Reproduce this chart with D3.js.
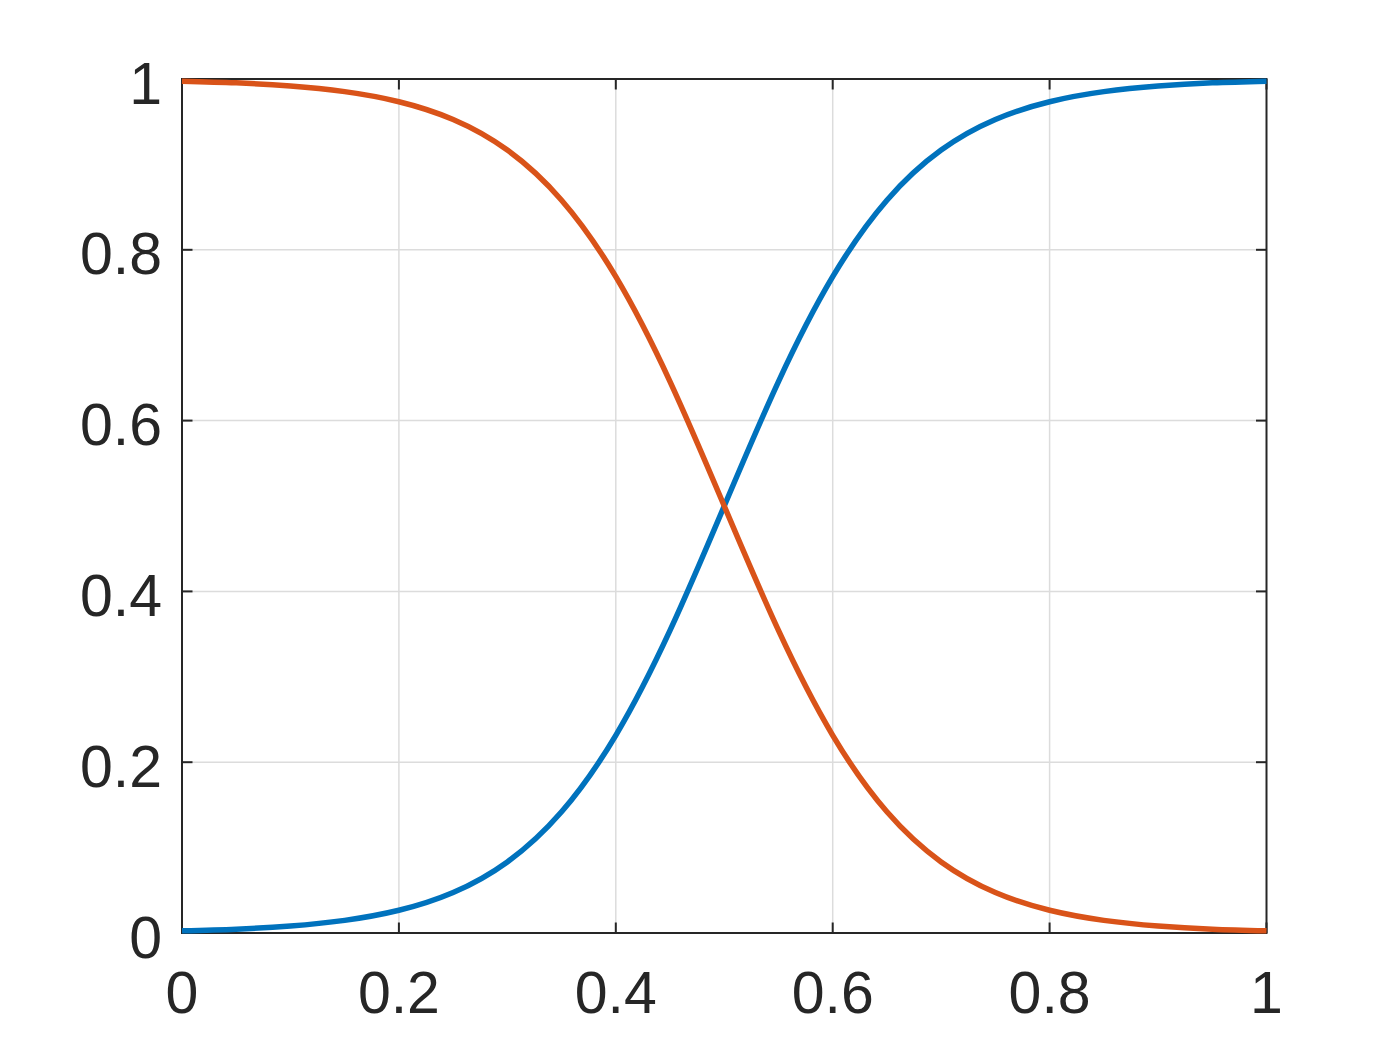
<!DOCTYPE html>
<html>
<head>
<meta charset="utf-8">
<script src="https://cdn.jsdelivr.net/npm/d3@7"></script>
<style>
  body { margin: 0; background: #ffffff; }
</style>
</head>
<body>
<script>
// ********************** DATA **************************************************************
var xValues = [0, 0.05, 0.1, 0.15, 0.2, 0.25, 0.3, 0.35, 0.4, 0.45, 0.5,
               0.55, 0.6, 0.65, 0.7, 0.75, 0.8, 0.85, 0.9, 0.95, 1];
// rising curve (blue)
var blueValues = [0.0025, 0.0045, 0.0082, 0.0148, 0.0266, 0.0474, 0.0832, 0.1419, 0.2315, 0.3543, 0.5,
                  0.6457, 0.7685, 0.8581, 0.9168, 0.9526, 0.9734, 0.9852, 0.9918, 0.9955, 0.9975];
// falling curve (red)
var redValues = [0.9975, 0.9955, 0.9918, 0.9852, 0.9734, 0.9526, 0.9168, 0.8581, 0.7685, 0.6457, 0.5,
                 0.3543, 0.2315, 0.1419, 0.0832, 0.0474, 0.0266, 0.0148, 0.0082, 0.0045, 0.0025];
var xTicks = [0, 0.2, 0.4, 0.6, 0.8, 1];
var yTicks = [0, 0.2, 0.4, 0.6, 0.8, 1];

// ********************** LAYOUT **************************************************************
var width = 1400;
var height = 1050;
// plot box edges (note: "top" is reserved on window, so use plot* names)
var plotLeft = 182, plotRight = 1266.5, plotTop = 79, plotBottom = 933;
var axisColor = "#262626";
var gridColor = "#dcdcdc";
var fontSize = 59;
var tickLen = 10.5;

var svg = d3.select("body")
    .append("svg")
    .attr("width", width)
    .attr("height", height);

var x = d3.scaleLinear().domain([0, 1]).range([plotLeft, plotRight]);
var y = d3.scaleLinear().domain([0, 1]).range([plotBottom, plotTop]);

// ********************** GRID **************************************************************
svg.append("g").selectAll("line")
    .data(xTicks.slice(1, -1))
    .enter().append("line")
    .attr("x1", d => x(d)).attr("x2", d => x(d))
    .attr("y1", plotTop).attr("y2", plotBottom)
    .attr("stroke", gridColor)
    .attr("stroke-width", 1.5);

svg.append("g").selectAll("line")
    .data(yTicks.slice(1, -1))
    .enter().append("line")
    .attr("x1", plotLeft).attr("x2", plotRight)
    .attr("y1", d => y(d)).attr("y2", d => y(d))
    .attr("stroke", gridColor)
    .attr("stroke-width", 1.5);

// ********************** AXES BOX + TICKS **************************************************************
svg.append("rect")
    .attr("x", plotLeft)
    .attr("y", plotTop)
    .attr("width", plotRight - plotLeft)
    .attr("height", plotBottom - plotTop)
    .attr("fill", "none")
    .attr("stroke", axisColor)
    .attr("stroke-width", 2);

var ticks = svg.append("g")
    .attr("stroke", axisColor)
    .attr("stroke-width", 2);

xTicks.forEach(function(t) {
    ticks.append("line")
        .attr("x1", x(t)).attr("x2", x(t))
        .attr("y1", plotBottom).attr("y2", plotBottom - tickLen);
    ticks.append("line")
        .attr("x1", x(t)).attr("x2", x(t))
        .attr("y1", plotTop).attr("y2", plotTop + tickLen);
});

yTicks.forEach(function(t) {
    ticks.append("line")
        .attr("x1", plotLeft).attr("x2", plotLeft + tickLen)
        .attr("y1", y(t)).attr("y2", y(t));
    ticks.append("line")
        .attr("x1", plotRight).attr("x2", plotRight - tickLen)
        .attr("y1", y(t)).attr("y2", y(t));
});

// tick labels
svg.append("g").selectAll("text")
    .data(xTicks)
    .enter().append("text")
    .attr("x", d => x(d))
    .attr("y", plotBottom + 80)
    .attr("text-anchor", "middle")
    .text(d => d)
    .style("font-size", fontSize + "px")
    .style("font-family", "Arial, 'Liberation Sans', Helvetica, sans-serif")
    .style("fill", axisColor);

svg.append("g").selectAll("text")
    .data(yTicks)
    .enter().append("text")
    .attr("x", plotLeft - 20)
    .attr("y", d => y(d) + 24.5)
    .attr("text-anchor", "end")
    .text(d => d)
    .style("font-size", fontSize + "px")
    .style("font-family", "Arial, 'Liberation Sans', Helvetica, sans-serif")
    .style("fill", axisColor);

// ********************** CURVES **************************************************************
var line = d3.line()
    .x(d => x(d[0]))
    .y(d => y(d[1]))
    .curve(d3.curveNatural);

svg.append("path")
    .datum(xValues.map((v, i) => [v, blueValues[i]]))
    .attr("d", line)
    .attr("fill", "none")
    .attr("stroke", "#0072BD")
    .attr("stroke-width", 5.5);

svg.append("path")
    .datum(xValues.map((v, i) => [v, redValues[i]]))
    .attr("d", line)
    .attr("fill", "none")
    .attr("stroke", "#D95319")
    .attr("stroke-width", 5.5);
</script>
</body>
</html>
